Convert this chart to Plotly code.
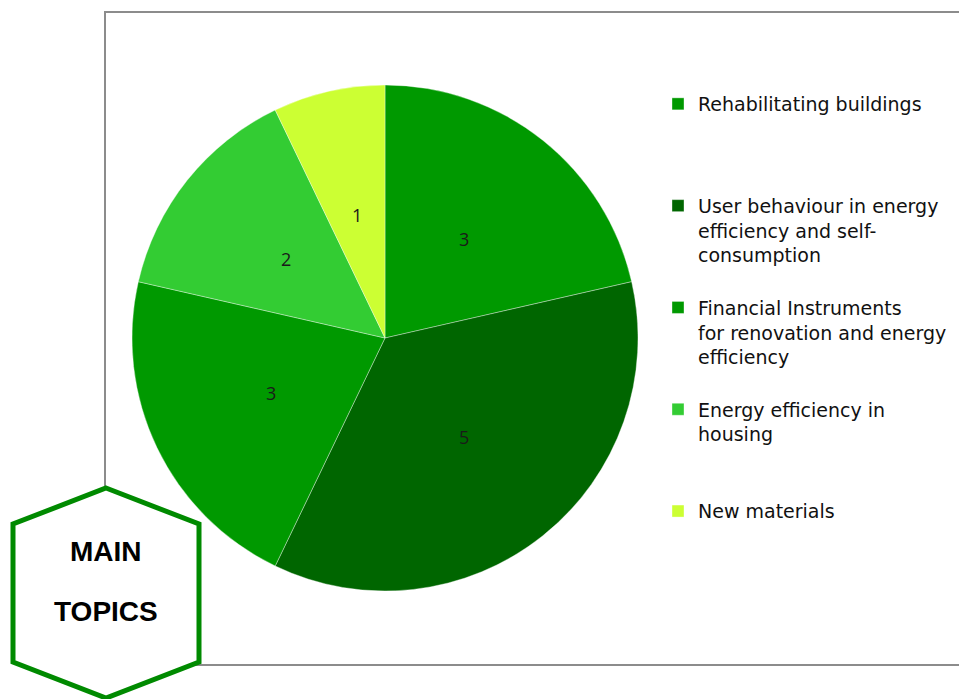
import math
import plotly.graph_objects as go

categories = [
    "Rehabilitating buildings",
    "User behaviour in energy<br>efficiency and self-<br>consumption",
    "Financial Instruments<br>for renovation and energy<br>efficiency",
    "Energy efficiency in<br>housing",
    "New materials",
]
values = [3, 5, 3, 2, 1]
colors = ["#009900", "#006600", "#009900", "#33cc33", "#ccff33"]

W, H = 967, 699
OFF = 8  # page body margin


def px(x):
    return (x - OFF) / W


def py(y):
    return 1 - (y - OFF) / H


# pad legend labels to equal line count so entries are evenly spaced
max_lines = 4
legend_labels = []
for c in categories:
    n = c.count("<br>") + 1
    legend_labels.append(c + "<br> " * (max_lines - n))

# pie geometry (reference pixels)
cx, cy, R = 385, 338, 253

fig = go.Figure(
    go.Pie(
        labels=legend_labels,
        values=values,
        sort=False,
        direction="clockwise",
        rotation=0,
        marker=dict(colors=colors, line=dict(color="rgba(255,255,255,0.45)", width=0.8)),
        textinfo="none",
        hoverinfo="label+value",
        domain=dict(x=[px(cx - R), px(cx + R)], y=[py(cy + R), py(cy - R)]),
    )
)

# value labels at half radius along each slice's mid-angle (derived from values)
total = sum(values)
annotations = []
cum = 0
for v in values:
    mid = (cum + v / 2) / total * 2 * math.pi
    cum += v
    lx = cx + 0.5 * R * math.sin(mid)
    ly = cy - 0.5 * R * math.cos(mid)
    annotations.append(dict(
        text=str(v), x=px(lx), y=py(ly), xref="paper", yref="paper",
        xanchor="center", yanchor="middle", showarrow=False,
        font=dict(family="Open Sans", size=18, color="#1a1a1a"),
    ))

annotations += [
    dict(text="<b>MAIN</b>", x=px(106), y=py(551), xref="paper", yref="paper",
         xanchor="center", yanchor="middle", showarrow=False,
         font=dict(family="Liberation Sans", size=28, color="black")),
    dict(text="<b>TOPICS</b>", x=px(106), y=py(611), xref="paper", yref="paper",
         xanchor="center", yanchor="middle", showarrow=False,
         font=dict(family="Liberation Sans", size=28, color="black")),
]

hexpath = "M {:.5f},{:.5f} L {:.5f},{:.5f} L {:.5f},{:.5f} L {:.5f},{:.5f} L {:.5f},{:.5f} L {:.5f},{:.5f} Z".format(
    px(106), py(488),
    px(199), py(524),
    px(199), py(662),
    px(106), py(698),
    px(13), py(662),
    px(13), py(524),
)

fig.update_layout(
    width=W,
    height=H,
    margin=dict(l=0, r=0, t=0, b=0),
    paper_bgcolor="white",
    plot_bgcolor="white",
    showlegend=True,
    legend=dict(
        x=px(658),
        y=py(85),
        xanchor="left",
        yanchor="top",
        valign="top",
        font=dict(family="DejaVu Sans", size=19, color="#111111"),
        bgcolor="rgba(0,0,0,0)",
        itemwidth=30,
    ),
    shapes=[
        dict(
            type="rect", xref="paper", yref="paper", layer="below",
            x0=px(105), x1=px(1000), y0=py(665), y1=py(12),
            line=dict(color="#8c8c8c", width=2), fillcolor="rgba(0,0,0,0)",
        ),
        dict(
            type="path", xref="paper", yref="paper", layer="above",
            path=hexpath,
            fillcolor="white",
            line=dict(color="#008a00", width=5),
        ),
    ],
    annotations=annotations,
)

fig.write_html("out.html")
